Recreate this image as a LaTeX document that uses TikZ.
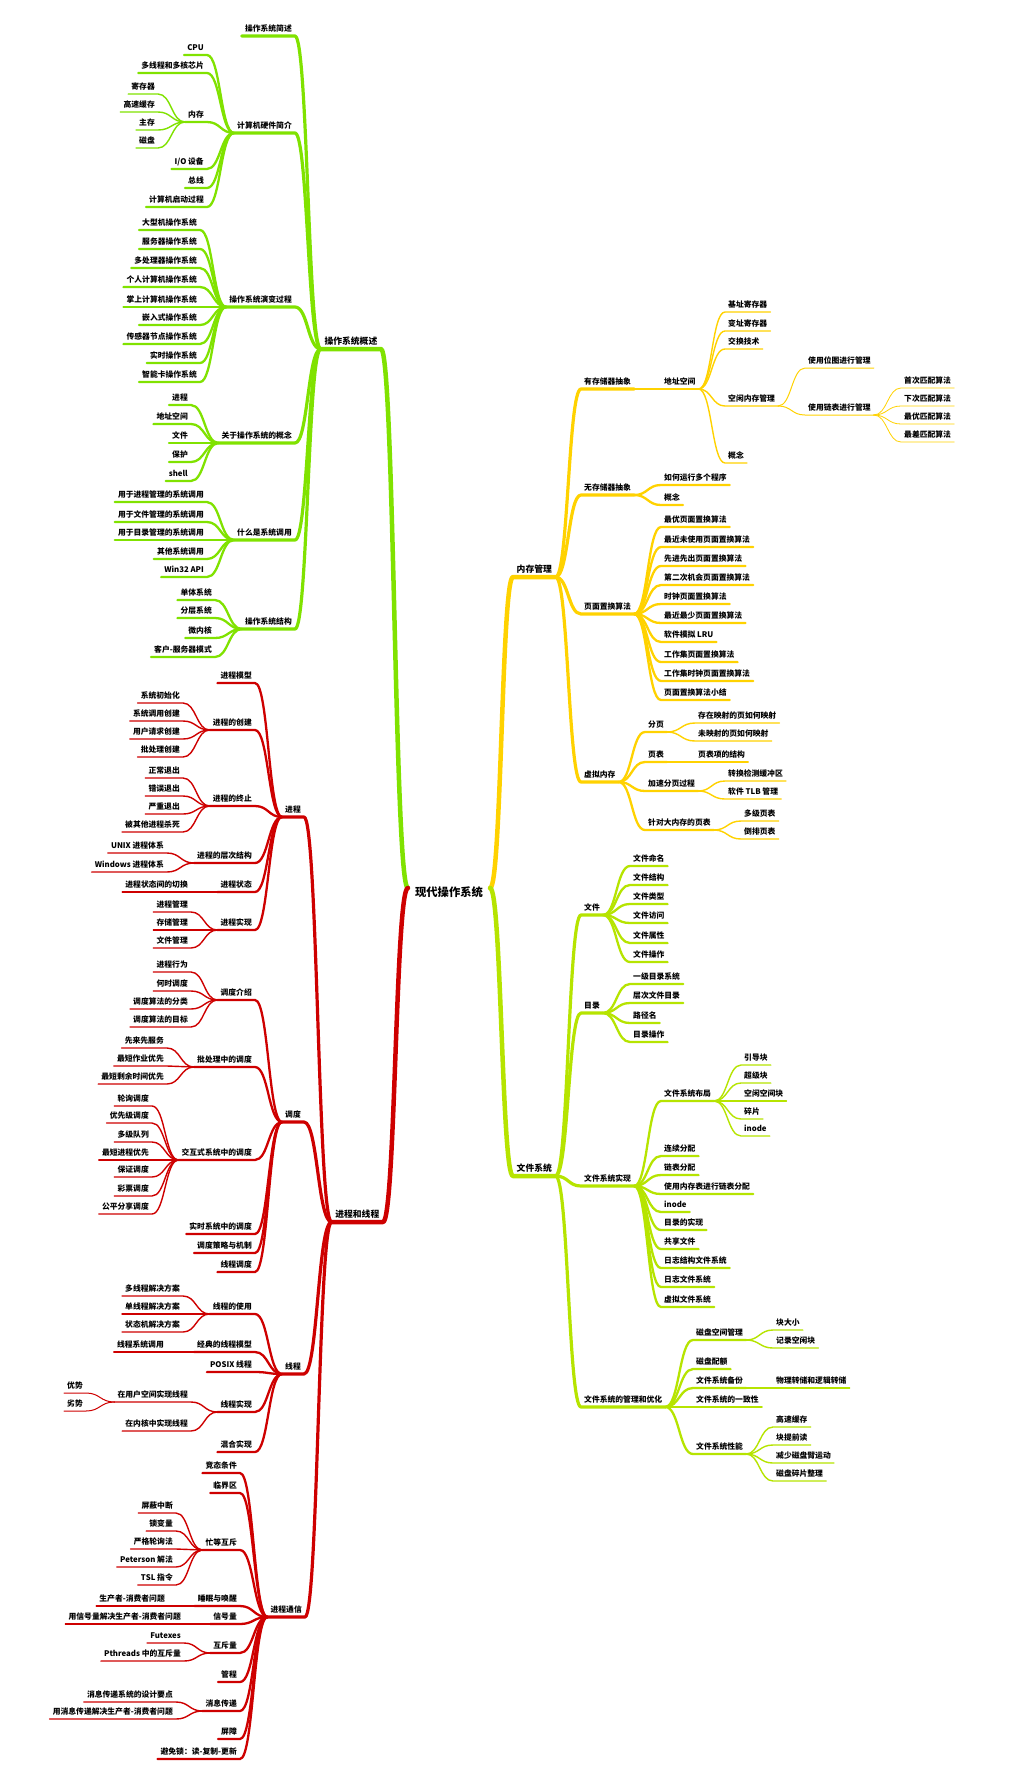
\documentclass[tikz,border=0pt]{standalone}
\usepackage{fontspec}
\setmainfont{Noto Sans CJK SC}
\usetikzlibrary{calc}

\definecolor{osgreen}{RGB}{128,226,0}
\definecolor{ptred}{RGB}{206,0,0}
\definecolor{memgold}{RGB}{255,210,0}
\definecolor{fslime}{RGB}{182,228,0}

\tikzset{
  curvy/.style={to path={let \p1=(\tikztostart), \p2=(\tikztotarget), \n1={(\x1+\x2)/2} in .. controls (\n1,\y1) and (\n1,\y2) .. (\tikztotarget)}},
  topic/.style={inner xsep=3pt, inner ysep=3pt, text height=7pt, text depth=1pt, font=\fontsize{7.8}{9}\selectfont\bfseries},
  maintopic/.style={inner xsep=3.5pt, inner ysep=3pt, text height=7.8pt, text depth=1pt, font=\fontsize{8.8}{10}\selectfont\bfseries},
  leftnode/.style={topic, anchor=south east},
  rightnode/.style={topic, anchor=south west},
  w1/.style={line width=4.5pt, line cap=round, line join=round},
  w2/.style={line width=3.2pt, line cap=round, line join=round},
  w3/.style={line width=2.3pt, line cap=round, line join=round},
  w4/.style={line width=1.4pt, line cap=round, line join=round},
  w5/.style={line width=1pt, line cap=round, line join=round},
  w6/.style={line width=0.8pt, line cap=round, line join=round}
}

\begin{document}
\begin{tikzpicture}[x=1pt, y=-1pt]
  \fill[white] (0,0) rectangle (1010,1778);
  \useasboundingbox (0,0) rectangle (1010,1778);

  \node[font=\fontsize{11.3}{13}\selectfont\bfseries, inner xsep=7pt] (root) at (449,892) {现代操作系统};

  % 操作系统概述
  \node[maintopic, anchor=south east] (overview) at (381,349) {操作系统概述};
  \draw[osgreen,w1] ([yshift=4pt]root.west) to[curvy] (overview.south east) -- (overview.south west);

  \node[leftnode] (brief) at (295,36) {操作系统简述};
  \draw[osgreen,w2] (overview.south west) to[curvy] (brief.south east) -- (brief.south west);
  \node[leftnode] (hardware) at (295,133) {计算机硬件简介};
  \draw[osgreen,w2] (overview.south west) to[curvy] (hardware.south east) -- (hardware.south west);
  \node[leftnode] (evolution) at (295,307) {操作系统演变过程};
  \draw[osgreen,w2] (overview.south west) to[curvy] (evolution.south east) -- (evolution.south west);
  \node[leftnode] (concepts) at (295,443) {关于操作系统的概念};
  \draw[osgreen,w2] (overview.south west) to[curvy] (concepts.south east) -- (concepts.south west);
  \node[leftnode] (syscall) at (295,540) {什么是系统调用};
  \draw[osgreen,w2] (overview.south west) to[curvy] (syscall.south east) -- (syscall.south west);
  \node[leftnode] (structure) at (295,629) {操作系统结构};
  \draw[osgreen,w2] (overview.south west) to[curvy] (structure.south east) -- (structure.south west);

  \node[leftnode] (cpu) at (207,55) {CPU};
  \draw[osgreen,w3] (hardware.south west) to[curvy] (cpu.south east) -- (cpu.south west);
  \node[leftnode] (multicore) at (207,73) {多线程和多核芯片};
  \draw[osgreen,w3] (hardware.south west) to[curvy] (multicore.south east) -- (multicore.south west);
  \node[leftnode] (memory) at (207,122) {内存};
  \draw[osgreen,w3] (hardware.south west) to[curvy] (memory.south east) -- (memory.south west);
  \node[leftnode] (iodevice) at (207,169) {I/O 设备};
  \draw[osgreen,w3] (hardware.south west) to[curvy] (iodevice.south east) -- (iodevice.south west);
  \node[leftnode] (bus) at (207,188) {总线};
  \draw[osgreen,w3] (hardware.south west) to[curvy] (bus.south east) -- (bus.south west);
  \node[leftnode] (booting) at (207,207) {计算机启动过程};
  \draw[osgreen,w3] (hardware.south west) to[curvy] (booting.south east) -- (booting.south west);

  \node[leftnode] (register) at (158,94) {寄存器};
  \draw[osgreen,w4] (memory.south west) to[curvy] (register.south east) -- (register.south west);
  \node[leftnode] (cache) at (158,112) {高速缓存};
  \draw[osgreen,w4] (memory.south west) to[curvy] (cache.south east) -- (cache.south west);
  \node[leftnode] (mainmem) at (158,130) {主存};
  \draw[osgreen,w4] (memory.south west) to[curvy] (mainmem.south east) -- (mainmem.south west);
  \node[leftnode] (disk) at (158,148) {磁盘};
  \draw[osgreen,w4] (memory.south west) to[curvy] (disk.south east) -- (disk.south west);

  \node[leftnode] (mainframe) at (200,230) {大型机操作系统};
  \draw[osgreen,w3] (evolution.south west) to[curvy] (mainframe.south east) -- (mainframe.south west);
  \node[leftnode] (serveros) at (200,249) {服务器操作系统};
  \draw[osgreen,w3] (evolution.south west) to[curvy] (serveros.south east) -- (serveros.south west);
  \node[leftnode] (multiproc) at (200,268) {多处理器操作系统};
  \draw[osgreen,w3] (evolution.south west) to[curvy] (multiproc.south east) -- (multiproc.south west);
  \node[leftnode] (pcos) at (200,287) {个人计算机操作系统};
  \draw[osgreen,w3] (evolution.south west) to[curvy] (pcos.south east) -- (pcos.south west);
  \node[leftnode] (handheld) at (200,307) {掌上计算机操作系统};
  \draw[osgreen,w3] (evolution.south west) to[curvy] (handheld.south east) -- (handheld.south west);
  \node[leftnode] (embedded) at (200,325) {嵌入式操作系统};
  \draw[osgreen,w3] (evolution.south west) to[curvy] (embedded.south east) -- (embedded.south west);
  \node[leftnode] (sensor) at (200,344) {传感器节点操作系统};
  \draw[osgreen,w3] (evolution.south west) to[curvy] (sensor.south east) -- (sensor.south west);
  \node[leftnode] (realtime) at (200,363) {实时操作系统};
  \draw[osgreen,w3] (evolution.south west) to[curvy] (realtime.south east) -- (realtime.south west);
  \node[leftnode] (smartcard) at (200,382) {智能卡操作系统};
  \draw[osgreen,w3] (evolution.south west) to[curvy] (smartcard.south east) -- (smartcard.south west);

  \node[leftnode] (cprocess) at (191,405) {进程};
  \draw[osgreen,w3] (concepts.south west) to[curvy] (cprocess.south east) -- (cprocess.south west);
  \node[leftnode] (caddress) at (191,424) {地址空间};
  \draw[osgreen,w3] (concepts.south west) to[curvy] (caddress.south east) -- (caddress.south west);
  \node[leftnode] (cfile) at (191,443) {文件};
  \draw[osgreen,w3] (concepts.south west) to[curvy] (cfile.south east) -- (cfile.south west);
  \node[leftnode] (cprotect) at (191,462) {保护};
  \draw[osgreen,w3] (concepts.south west) to[curvy] (cprotect.south east) -- (cprotect.south west);
  \node[leftnode] (cshell) at (191,481) {shell};
  \draw[osgreen,w3] (concepts.south west) to[curvy] (cshell.south east) -- (cshell.south west);

  \node[leftnode] (scprocess) at (207,502) {用于进程管理的系统调用};
  \draw[osgreen,w3] (syscall.south west) to[curvy] (scprocess.south east) -- (scprocess.south west);
  \node[leftnode] (scfile) at (207,522) {用于文件管理的系统调用};
  \draw[osgreen,w3] (syscall.south west) to[curvy] (scfile.south east) -- (scfile.south west);
  \node[leftnode] (scdir) at (207,540) {用于目录管理的系统调用};
  \draw[osgreen,w3] (syscall.south west) to[curvy] (scdir.south east) -- (scdir.south west);
  \node[leftnode] (scother) at (207,559) {其他系统调用};
  \draw[osgreen,w3] (syscall.south west) to[curvy] (scother.south east) -- (scother.south west);
  \node[leftnode] (win32) at (207,577) {Win32 API};
  \draw[osgreen,w3] (syscall.south west) to[curvy] (win32.south east) -- (win32.south west);

  \node[leftnode] (monolithic) at (215,600) {单体系统};
  \draw[osgreen,w3] (structure.south west) to[curvy] (monolithic.south east) -- (monolithic.south west);
  \node[leftnode] (layered) at (215,618) {分层系统};
  \draw[osgreen,w3] (structure.south west) to[curvy] (layered.south east) -- (layered.south west);
  \node[leftnode] (microkernel) at (215,638) {微内核};
  \draw[osgreen,w3] (structure.south west) to[curvy] (microkernel.south east) -- (microkernel.south west);
  \node[leftnode] (clientserver) at (215,657) {客户-服务器模式};
  \draw[osgreen,w3] (structure.south west) to[curvy] (clientserver.south east) -- (clientserver.south west);

  % 进程和线程
  \node[maintopic, anchor=south east] (procthread) at (383,1222) {进程和线程};
  \draw[ptred,w1] ([yshift=4pt]root.west) to[curvy] (procthread.south east) -- (procthread.south west);

  \node[leftnode] (process) at (304,817) {进程};
  \draw[ptred,w2] (procthread.south west) to[curvy] (process.south east) -- (process.south west);
  \node[leftnode] (sched) at (304,1122) {调度};
  \draw[ptred,w2] (procthread.south west) to[curvy] (sched.south east) -- (sched.south west);
  \node[leftnode] (thread) at (304,1374) {线程};
  \draw[ptred,w2] (procthread.south west) to[curvy] (thread.south east) -- (thread.south west);
  \node[leftnode] (ipc) at (305,1617) {进程通信};
  \draw[ptred,w2] (procthread.south west) to[curvy] (ipc.south east) -- (ipc.south west);

  \node[leftnode] (pmodel) at (255,683) {进程模型};
  \draw[ptred,w3] (process.south west) to[curvy] (pmodel.south east) -- (pmodel.south west);
  \node[leftnode] (pcreate) at (255,730) {进程的创建};
  \draw[ptred,w3] (process.south west) to[curvy] (pcreate.south east) -- (pcreate.south west);
  \node[leftnode] (pexit) at (255,806) {进程的终止};
  \draw[ptred,w3] (process.south west) to[curvy] (pexit.south east) -- (pexit.south west);
  \node[leftnode] (phier) at (255,863) {进程的层次结构};
  \draw[ptred,w3] (process.south west) to[curvy] (phier.south east) -- (phier.south west);
  \node[leftnode] (pstate) at (255,892) {进程状态};
  \draw[ptred,w3] (process.south west) to[curvy] (pstate.south east) -- (pstate.south west);
  \node[leftnode] (pimpl) at (255,930) {进程实现};
  \draw[ptred,w3] (process.south west) to[curvy] (pimpl.south east) -- (pimpl.south west);

  \node[leftnode] (sysinit) at (183,703) {系统初始化};
  \draw[ptred,w4] (pcreate.south west) to[curvy] (sysinit.south east) -- (sysinit.south west);
  \node[leftnode] (syscreate) at (183,721) {系统调用创建};
  \draw[ptred,w4] (pcreate.south west) to[curvy] (syscreate.south east) -- (syscreate.south west);
  \node[leftnode] (usercreate) at (183,739) {用户请求创建};
  \draw[ptred,w4] (pcreate.south west) to[curvy] (usercreate.south east) -- (usercreate.south west);
  \node[leftnode] (batchcreate) at (183,757) {批处理创建};
  \draw[ptred,w4] (pcreate.south west) to[curvy] (batchcreate.south east) -- (batchcreate.south west);

  \node[leftnode] (normalexit) at (183,778) {正常退出};
  \draw[ptred,w4] (pexit.south west) to[curvy] (normalexit.south east) -- (normalexit.south west);
  \node[leftnode] (errorexit) at (183,796) {错误退出};
  \draw[ptred,w4] (pexit.south west) to[curvy] (errorexit.south east) -- (errorexit.south west);
  \node[leftnode] (fatalexit) at (183,814) {严重退出};
  \draw[ptred,w4] (pexit.south west) to[curvy] (fatalexit.south east) -- (fatalexit.south west);
  \node[leftnode] (killed) at (183,832) {被其他进程杀死};
  \draw[ptred,w4] (pexit.south west) to[curvy] (killed.south east) -- (killed.south west);

  \node[leftnode] (unixhier) at (167,853) {UNIX 进程体系};
  \draw[ptred,w4] (phier.south west) to[curvy] (unixhier.south east) -- (unixhier.south west);
  \node[leftnode] (winhier) at (167,872) {Windows 进程体系};
  \draw[ptred,w4] (phier.south west) to[curvy] (winhier.south east) -- (winhier.south west);

  \node[leftnode] (switching) at (191,892) {进程状态间的切换};
  \draw[ptred,w4] (pstate.south west) to[curvy] (switching.south east) -- (switching.south west);

  \node[leftnode] (procmgmt) at (191,912) {进程管理};
  \draw[ptred,w4] (pimpl.south west) to[curvy] (procmgmt.south east) -- (procmgmt.south west);
  \node[leftnode] (storemgmt) at (191,930) {存储管理};
  \draw[ptred,w4] (pimpl.south west) to[curvy] (storemgmt.south east) -- (storemgmt.south west);
  \node[leftnode] (filemgmt) at (191,948) {文件管理};
  \draw[ptred,w4] (pimpl.south west) to[curvy] (filemgmt.south east) -- (filemgmt.south west);

  \node[leftnode] (sintro) at (255,1000) {调度介绍};
  \draw[ptred,w3] (sched.south west) to[curvy] (sintro.south east) -- (sintro.south west);
  \node[leftnode] (sbatch) at (255,1067) {批处理中的调度};
  \draw[ptred,w3] (sched.south west) to[curvy] (sbatch.south east) -- (sbatch.south west);
  \node[leftnode] (sinter) at (255,1160) {交互式系统中的调度};
  \draw[ptred,w3] (sched.south west) to[curvy] (sinter.south east) -- (sinter.south west);
  \node[leftnode] (srealtime) at (255,1234) {实时系统中的调度};
  \draw[ptred,w3] (sched.south west) to[curvy] (srealtime.south east) -- (srealtime.south west);
  \node[leftnode] (spolicy) at (255,1253) {调度策略与机制};
  \draw[ptred,w3] (sched.south west) to[curvy] (spolicy.south east) -- (spolicy.south west);
  \node[leftnode] (sthread) at (255,1272) {线程调度};
  \draw[ptred,w3] (sched.south west) to[curvy] (sthread.south east) -- (sthread.south west);

  \node[leftnode] (behavior) at (191,972) {进程行为};
  \draw[ptred,w4] (sintro.south west) to[curvy] (behavior.south east) -- (behavior.south west);
  \node[leftnode] (whensched) at (191,991) {何时调度};
  \draw[ptred,w4] (sintro.south west) to[curvy] (whensched.south east) -- (whensched.south west);
  \node[leftnode] (algclass) at (191,1009) {调度算法的分类};
  \draw[ptred,w4] (sintro.south west) to[curvy] (algclass.south east) -- (algclass.south west);
  \node[leftnode] (alggoal) at (191,1027) {调度算法的目标};
  \draw[ptred,w4] (sintro.south west) to[curvy] (alggoal.south east) -- (alggoal.south west);

  \node[leftnode] (fcfs) at (167,1048) {先来先服务};
  \draw[ptred,w4] (sbatch.south west) to[curvy] (fcfs.south east) -- (fcfs.south west);
  \node[leftnode] (sjf) at (167,1066) {最短作业优先};
  \draw[ptred,w4] (sbatch.south west) to[curvy] (sjf.south east) -- (sjf.south west);
  \node[leftnode] (srtn) at (167,1084) {最短剩余时间优先};
  \draw[ptred,w4] (sbatch.south west) to[curvy] (srtn.south east) -- (srtn.south west);

  \node[leftnode] (roundrobin) at (152,1106) {轮询调度};
  \draw[ptred,w4] (sinter.south west) to[curvy] (roundrobin.south east) -- (roundrobin.south west);
  \node[leftnode] (priority) at (152,1123) {优先级调度};
  \draw[ptred,w4] (sinter.south west) to[curvy] (priority.south east) -- (priority.south west);
  \node[leftnode] (multiqueue) at (152,1142) {多级队列};
  \draw[ptred,w4] (sinter.south west) to[curvy] (multiqueue.south east) -- (multiqueue.south west);
  \node[leftnode] (spn) at (152,1160) {最短进程优先};
  \draw[ptred,w4] (sinter.south west) to[curvy] (spn.south east) -- (spn.south west);
  \node[leftnode] (guaranteed) at (152,1177) {保证调度};
  \draw[ptred,w4] (sinter.south west) to[curvy] (guaranteed.south east) -- (guaranteed.south west);
  \node[leftnode] (lottery) at (152,1196) {彩票调度};
  \draw[ptred,w4] (sinter.south west) to[curvy] (lottery.south east) -- (lottery.south west);
  \node[leftnode] (fairshare) at (152,1214) {公平分享调度};
  \draw[ptred,w4] (sinter.south west) to[curvy] (fairshare.south east) -- (fairshare.south west);

  \node[leftnode] (tusage) at (255,1314) {线程的使用};
  \draw[ptred,w3] (thread.south west) to[curvy] (tusage.south east) -- (tusage.south west);
  \node[leftnode] (tclassic) at (255,1352) {经典的线程模型};
  \draw[ptred,w3] (thread.south west) to[curvy] (tclassic.south east) -- (tclassic.south west);
  \node[leftnode] (tposix) at (255,1372) {POSIX 线程};
  \draw[ptred,w3] (thread.south west) to[curvy] (tposix.south east) -- (tposix.south west);
  \node[leftnode] (timpl) at (255,1412) {线程实现};
  \draw[ptred,w3] (thread.south west) to[curvy] (timpl.south east) -- (timpl.south west);
  \node[leftnode] (thybrid) at (255,1452) {混合实现};
  \draw[ptred,w3] (thread.south west) to[curvy] (thybrid.south east) -- (thybrid.south west);

  \node[leftnode] (multisol) at (183,1296) {多线程解决方案};
  \draw[ptred,w4] (tusage.south west) to[curvy] (multisol.south east) -- (multisol.south west);
  \node[leftnode] (singlesol) at (183,1314) {单线程解决方案};
  \draw[ptred,w4] (tusage.south west) to[curvy] (singlesol.south east) -- (singlesol.south west);
  \node[leftnode] (fsmsol) at (183,1332) {状态机解决方案};
  \draw[ptred,w4] (tusage.south west) to[curvy] (fsmsol.south east) -- (fsmsol.south west);

  \node[leftnode] (tsyscall) at (167,1352) {线程系统调用};
  \draw[ptred,w4] (tclassic.south west) to[curvy] (tsyscall.south east) -- (tsyscall.south west);

  \node[leftnode] (userspace) at (191,1402) {在用户空间实现线程};
  \draw[ptred,w4] (timpl.south west) to[curvy] (userspace.south east) -- (userspace.south west);
  \node[leftnode] (kernelspace) at (191,1431) {在内核中实现线程};
  \draw[ptred,w4] (timpl.south west) to[curvy] (kernelspace.south east) -- (kernelspace.south west);

  \node[leftnode] (pros) at (86,1393) {优势};
  \draw[ptred,w5] (userspace.south west) to[curvy] (pros.south east) -- (pros.south west);
  \node[leftnode] (cons) at (86,1411) {劣势};
  \draw[ptred,w5] (userspace.south west) to[curvy] (cons.south east) -- (cons.south west);

  \node[leftnode] (race) at (240,1473) {竞态条件};
  \draw[ptred,w3] (ipc.south west) to[curvy] (race.south east) -- (race.south west);
  \node[leftnode] (critical) at (240,1493) {临界区};
  \draw[ptred,w3] (ipc.south west) to[curvy] (critical.south east) -- (critical.south west);
  \node[leftnode] (busywait) at (240,1550) {忙等互斥};
  \draw[ptred,w3] (ipc.south west) to[curvy] (busywait.south east) -- (busywait.south west);
  \node[leftnode] (sleepwake) at (240,1606) {睡眠与唤醒};
  \draw[ptred,w3] (ipc.south west) to[curvy] (sleepwake.south east) -- (sleepwake.south west);
  \node[leftnode] (semaphore) at (240,1624) {信号量};
  \draw[ptred,w3] (ipc.south west) to[curvy] (semaphore.south east) -- (semaphore.south west);
  \node[leftnode] (mutex) at (240,1653) {互斥量};
  \draw[ptred,w3] (ipc.south west) to[curvy] (mutex.south east) -- (mutex.south west);
  \node[leftnode] (monitor) at (240,1682) {管程};
  \draw[ptred,w3] (ipc.south west) to[curvy] (monitor.south east) -- (monitor.south west);
  \node[leftnode] (msgpass) at (240,1711) {消息传递};
  \draw[ptred,w3] (ipc.south west) to[curvy] (msgpass.south east) -- (msgpass.south west);
  \node[leftnode] (barrier) at (240,1739) {屏障};
  \draw[ptred,w3] (ipc.south west) to[curvy] (barrier.south east) -- (barrier.south west);
  \node[leftnode] (rcu) at (240,1759) {避免锁：读-复制-更新};
  \draw[ptred,w3] (ipc.south west) to[curvy] (rcu.south east) -- (rcu.south west);

  \node[leftnode] (disableint) at (176,1513) {屏蔽中断};
  \draw[ptred,w4] (busywait.south west) to[curvy] (disableint.south east) -- (disableint.south west);
  \node[leftnode] (lockvar) at (176,1531) {锁变量};
  \draw[ptred,w4] (busywait.south west) to[curvy] (lockvar.south east) -- (lockvar.south west);
  \node[leftnode] (strictalt) at (176,1549) {严格轮询法};
  \draw[ptred,w4] (busywait.south west) to[curvy] (strictalt.south east) -- (strictalt.south west);
  \node[leftnode] (peterson) at (176,1567) {Peterson 解法};
  \draw[ptred,w4] (busywait.south west) to[curvy] (peterson.south east) -- (peterson.south west);
  \node[leftnode] (tsl) at (176,1585) {TSL 指令};
  \draw[ptred,w4] (busywait.south west) to[curvy] (tsl.south east) -- (tsl.south west);

  \node[leftnode] (prodcons) at (168,1606) {生产者-消费者问题};
  \draw[ptred,w4] (sleepwake.south west) to[curvy] (prodcons.south east) -- (prodcons.south west);
  \node[leftnode] (semprodcons) at (184,1624) {用信号量解决生产者-消费者问题};
  \draw[ptred,w4] (semaphore.south west) to[curvy] (semprodcons.south east) -- (semprodcons.south west);

  \node[leftnode] (futex) at (184,1643) {Futexes};
  \draw[ptred,w4] (mutex.south west) to[curvy] (futex.south east) -- (futex.south west);
  \node[leftnode] (pthreadmutex) at (184,1661) {Pthreads 中的互斥量};
  \draw[ptred,w4] (mutex.south west) to[curvy] (pthreadmutex.south east) -- (pthreadmutex.south west);

  \node[leftnode] (msgdesign) at (176,1702) {消息传递系统的设计要点};
  \draw[ptred,w4] (msgpass.south west) to[curvy] (msgdesign.south east) -- (msgdesign.south west);
  \node[leftnode] (msgprodcons) at (176,1719) {用消息传递解决生产者-消费者问题};
  \draw[ptred,w4] (msgpass.south west) to[curvy] (msgprodcons.south east) -- (msgprodcons.south west);

  % 内存管理
  \node[maintopic, anchor=south west] (memmgmt) at (513,577) {内存管理};
  \draw[memgold,w1] ([yshift=4pt]root.east) to[curvy] (memmgmt.south west) -- (memmgmt.south east);

  \node[rightnode] (withabs) at (581,389) {有存储器抽象};
  \draw[memgold,w2] (memmgmt.south east) to[curvy] (withabs.south west) -- (withabs.south east);
  \node[rightnode] (noabs) at (581,495) {无存储器抽象};
  \draw[memgold,w2] (memmgmt.south east) to[curvy] (noabs.south west) -- (noabs.south east);
  \node[rightnode] (replace) at (581,614) {页面置换算法};
  \draw[memgold,w2] (memmgmt.south east) to[curvy] (replace.south west) -- (replace.south east);
  \node[rightnode] (virtmem) at (581,782) {虚拟内存};
  \draw[memgold,w2] (memmgmt.south east) to[curvy] (virtmem.south west) -- (virtmem.south east);

  \node[rightnode] (addrspace) at (661,389) {地址空间};
  \draw[memgold,w3] (withabs.south east) to[curvy] (addrspace.south west) -- (addrspace.south east);

  \node[rightnode] (baseregister) at (725,312) {基址寄存器};
  \draw[memgold,w4] (addrspace.south east) to[curvy] (baseregister.south west) -- (baseregister.south east);
  \node[rightnode] (limitregister) at (725,331) {变址寄存器};
  \draw[memgold,w4] (addrspace.south east) to[curvy] (limitregister.south west) -- (limitregister.south east);
  \node[rightnode] (swapping) at (725,349) {交换技术};
  \draw[memgold,w4] (addrspace.south east) to[curvy] (swapping.south west) -- (swapping.south east);
  \node[rightnode] (freemem) at (725,406) {空闲内存管理};
  \draw[memgold,w4] (addrspace.south east) to[curvy] (freemem.south west) -- (freemem.south east);
  \node[rightnode] (addrconcept) at (725,463) {概念};
  \draw[memgold,w4] (addrspace.south east) to[curvy] (addrconcept.south west) -- (addrconcept.south east);

  \node[rightnode] (bitmap) at (805,368) {使用位图进行管理};
  \draw[memgold,w5] (freemem.south east) to[curvy] (bitmap.south west) -- (bitmap.south east);
  \node[rightnode] (linkedlist) at (805,415) {使用链表进行管理};
  \draw[memgold,w5] (freemem.south east) to[curvy] (linkedlist.south west) -- (linkedlist.south east);

  \node[rightnode] (firstfit) at (901,388) {首次匹配算法};
  \draw[memgold,w6] (linkedlist.south east) to[curvy] (firstfit.south west) -- (firstfit.south east);
  \node[rightnode] (nextfit) at (901,406) {下次匹配算法};
  \draw[memgold,w6] (linkedlist.south east) to[curvy] (nextfit.south west) -- (nextfit.south east);
  \node[rightnode] (bestfit) at (901,424) {最优匹配算法};
  \draw[memgold,w6] (linkedlist.south east) to[curvy] (bestfit.south west) -- (bestfit.south east);
  \node[rightnode] (worstfit) at (901,442) {最差匹配算法};
  \draw[memgold,w6] (linkedlist.south east) to[curvy] (worstfit.south west) -- (worstfit.south east);

  \node[rightnode] (multiprog) at (661,485) {如何运行多个程序};
  \draw[memgold,w3] (noabs.south east) to[curvy] (multiprog.south west) -- (multiprog.south east);
  \node[rightnode] (noabsconcept) at (661,505) {概念};
  \draw[memgold,w3] (noabs.south east) to[curvy] (noabsconcept.south west) -- (noabsconcept.south east);

  \node[rightnode] (optimal) at (661,527) {最优页面置换算法};
  \draw[memgold,w3] (replace.south east) to[curvy] (optimal.south west) -- (optimal.south east);
  \node[rightnode] (nru) at (661,547) {最近未使用页面置换算法};
  \draw[memgold,w3] (replace.south east) to[curvy] (nru.south west) -- (nru.south east);
  \node[rightnode] (fifo) at (661,566) {先进先出页面置换算法};
  \draw[memgold,w3] (replace.south east) to[curvy] (fifo.south west) -- (fifo.south east);
  \node[rightnode] (secondchance) at (661,585) {第二次机会页面置换算法};
  \draw[memgold,w3] (replace.south east) to[curvy] (secondchance.south west) -- (secondchance.south east);
  \node[rightnode] (clock) at (661,604) {时钟页面置换算法};
  \draw[memgold,w3] (replace.south east) to[curvy] (clock.south west) -- (clock.south east);
  \node[rightnode] (lru) at (661,623) {最近最少页面置换算法};
  \draw[memgold,w3] (replace.south east) to[curvy] (lru.south west) -- (lru.south east);
  \node[rightnode] (softlru) at (661,642) {软件模拟 LRU};
  \draw[memgold,w3] (replace.south east) to[curvy] (softlru.south west) -- (softlru.south east);
  \node[rightnode] (workingset) at (661,662) {工作集页面置换算法};
  \draw[memgold,w3] (replace.south east) to[curvy] (workingset.south west) -- (workingset.south east);
  \node[rightnode] (wsclock) at (661,681) {工作集时钟页面置换算法};
  \draw[memgold,w3] (replace.south east) to[curvy] (wsclock.south west) -- (wsclock.south east);
  \node[rightnode] (replsummary) at (661,700) {页面置换算法小结};
  \draw[memgold,w3] (replace.south east) to[curvy] (replsummary.south west) -- (replsummary.south east);

  \node[rightnode] (paging) at (645,732) {分页};
  \draw[memgold,w3] (virtmem.south east) to[curvy] (paging.south west) -- (paging.south east);
  \node[rightnode] (pagetable) at (645,762) {页表};
  \draw[memgold,w3] (virtmem.south east) to[curvy] (pagetable.south west) -- (pagetable.south east);
  \node[rightnode] (speedup) at (645,791) {加速分页过程};
  \draw[memgold,w3] (virtmem.south east) to[curvy] (speedup.south west) -- (speedup.south east);
  \node[rightnode] (largemem) at (645,830) {针对大内存的页表};
  \draw[memgold,w3] (virtmem.south east) to[curvy] (largemem.south west) -- (largemem.south east);

  \node[rightnode] (mapped) at (695,723) {存在映射的页如何映射};
  \draw[memgold,w4] (paging.south east) to[curvy] (mapped.south west) -- (mapped.south east);
  \node[rightnode] (unmapped) at (695,741) {未映射的页如何映射};
  \draw[memgold,w4] (paging.south east) to[curvy] (unmapped.south west) -- (unmapped.south east);
  \node[rightnode] (pte) at (695,762) {页表项的结构};
  \draw[memgold,w4] (pagetable.south east) to[curvy] (pte.south west) -- (pte.south east);
  \node[rightnode] (tlb) at (725,781) {转换检测缓冲区};
  \draw[memgold,w4] (speedup.south east) to[curvy] (tlb.south west) -- (tlb.south east);
  \node[rightnode] (softtlb) at (725,799) {软件 TLB 管理};
  \draw[memgold,w4] (speedup.south east) to[curvy] (softtlb.south west) -- (softtlb.south east);
  \node[rightnode] (multilevel) at (741,821) {多级页表};
  \draw[memgold,w4] (largemem.south east) to[curvy] (multilevel.south west) -- (multilevel.south east);
  \node[rightnode] (inverted) at (741,839) {倒排页表};
  \draw[memgold,w4] (largemem.south east) to[curvy] (inverted.south west) -- (inverted.south east);

  % 文件系统
  \node[maintopic, anchor=south west] (filesys) at (513,1176) {文件系统};
  \draw[fslime,w1] ([yshift=4pt]root.east) to[curvy] (filesys.south west) -- (filesys.south east);

  \node[rightnode] (files) at (581,915) {文件};
  \draw[fslime,w2] (filesys.south east) to[curvy] (files.south west) -- (files.south east);
  \node[rightnode] (dirs) at (581,1013) {目录};
  \draw[fslime,w2] (filesys.south east) to[curvy] (dirs.south west) -- (dirs.south east);
  \node[rightnode] (fsimpl) at (581,1186) {文件系统实现};
  \draw[fslime,w2] (filesys.south east) to[curvy] (fsimpl.south west) -- (fsimpl.south east);
  \node[rightnode] (fsmanage) at (581,1407) {文件系统的管理和优化};
  \draw[fslime,w2] (filesys.south east) to[curvy] (fsmanage.south west) -- (fsmanage.south east);

  \node[rightnode] (fnaming) at (630,866) {文件命名};
  \draw[fslime,w3] (files.south east) to[curvy] (fnaming.south west) -- (fnaming.south east);
  \node[rightnode] (fstruct) at (630,885) {文件结构};
  \draw[fslime,w3] (files.south east) to[curvy] (fstruct.south west) -- (fstruct.south east);
  \node[rightnode] (ftype) at (630,904) {文件类型};
  \draw[fslime,w3] (files.south east) to[curvy] (ftype.south west) -- (ftype.south east);
  \node[rightnode] (faccess) at (630,923) {文件访问};
  \draw[fslime,w3] (files.south east) to[curvy] (faccess.south west) -- (faccess.south east);
  \node[rightnode] (fattr) at (630,943) {文件属性};
  \draw[fslime,w3] (files.south east) to[curvy] (fattr.south west) -- (fattr.south east);
  \node[rightnode] (fops) at (630,962) {文件操作};
  \draw[fslime,w3] (files.south east) to[curvy] (fops.south west) -- (fops.south east);

  \node[rightnode] (singledir) at (630,984) {一级目录系统};
  \draw[fslime,w3] (dirs.south east) to[curvy] (singledir.south west) -- (singledir.south east);
  \node[rightnode] (hierdir) at (630,1003) {层次文件目录};
  \draw[fslime,w3] (dirs.south east) to[curvy] (hierdir.south west) -- (hierdir.south east);
  \node[rightnode] (pathname) at (630,1023) {路径名};
  \draw[fslime,w3] (dirs.south east) to[curvy] (pathname.south west) -- (pathname.south east);
  \node[rightnode] (dirops) at (630,1042) {目录操作};
  \draw[fslime,w3] (dirs.south east) to[curvy] (dirops.south west) -- (dirops.south east);

  \node[rightnode] (layout) at (661,1101) {文件系统布局};
  \draw[fslime,w3] (fsimpl.south east) to[curvy] (layout.south west) -- (layout.south east);
  \node[rightnode] (contiguous) at (661,1156) {连续分配};
  \draw[fslime,w3] (fsimpl.south east) to[curvy] (contiguous.south west) -- (contiguous.south east);
  \node[rightnode] (linkedalloc) at (661,1175) {链表分配};
  \draw[fslime,w3] (fsimpl.south east) to[curvy] (linkedalloc.south west) -- (linkedalloc.south east);
  \node[rightnode] (fat) at (661,1194) {使用内存表进行链表分配};
  \draw[fslime,w3] (fsimpl.south east) to[curvy] (fat.south west) -- (fat.south east);
  \node[rightnode] (inode) at (661,1212) {inode};
  \draw[fslime,w3] (fsimpl.south east) to[curvy] (inode.south west) -- (inode.south east);
  \node[rightnode] (dirimpl) at (661,1230) {目录的实现};
  \draw[fslime,w3] (fsimpl.south east) to[curvy] (dirimpl.south west) -- (dirimpl.south east);
  \node[rightnode] (shared) at (661,1249) {共享文件};
  \draw[fslime,w3] (fsimpl.south east) to[curvy] (shared.south west) -- (shared.south east);
  \node[rightnode] (logstruct) at (661,1268) {日志结构文件系统};
  \draw[fslime,w3] (fsimpl.south east) to[curvy] (logstruct.south west) -- (logstruct.south east);
  \node[rightnode] (journal) at (661,1287) {日志文件系统};
  \draw[fslime,w3] (fsimpl.south east) to[curvy] (journal.south west) -- (journal.south east);
  \node[rightnode] (vfs) at (661,1307) {虚拟文件系统};
  \draw[fslime,w3] (fsimpl.south east) to[curvy] (vfs.south west) -- (vfs.south east);

  \node[rightnode] (bootblock) at (741,1065) {引导块};
  \draw[fslime,w4] (layout.south east) to[curvy] (bootblock.south west) -- (bootblock.south east);
  \node[rightnode] (superblock) at (741,1083) {超级块};
  \draw[fslime,w4] (layout.south east) to[curvy] (superblock.south west) -- (superblock.south east);
  \node[rightnode] (freeblock) at (741,1101) {空闲空间块};
  \draw[fslime,w4] (layout.south east) to[curvy] (freeblock.south west) -- (freeblock.south east);
  \node[rightnode] (fragment) at (741,1119) {碎片};
  \draw[fslime,w4] (layout.south east) to[curvy] (fragment.south west) -- (fragment.south east);
  \node[rightnode] (layoutinode) at (741,1136) {inode};
  \draw[fslime,w4] (layout.south east) to[curvy] (layoutinode.south west) -- (layoutinode.south east);

  \node[rightnode] (diskspace) at (693,1340) {磁盘空间管理};
  \draw[fslime,w3] (fsmanage.south east) to[curvy] (diskspace.south west) -- (diskspace.south east);
  \node[rightnode] (quota) at (693,1369) {磁盘配额};
  \draw[fslime,w3] (fsmanage.south east) to[curvy] (quota.south west) -- (quota.south east);
  \node[rightnode] (backup) at (693,1388) {文件系统备份};
  \draw[fslime,w3] (fsmanage.south east) to[curvy] (backup.south west) -- (backup.south east);
  \node[rightnode] (consistency) at (693,1407) {文件系统的一致性};
  \draw[fslime,w3] (fsmanage.south east) to[curvy] (consistency.south west) -- (consistency.south east);
  \node[rightnode] (performance) at (693,1454) {文件系统性能};
  \draw[fslime,w3] (fsmanage.south east) to[curvy] (performance.south west) -- (performance.south east);

  \node[rightnode] (blocksize) at (773,1330) {块大小};
  \draw[fslime,w4] (diskspace.south east) to[curvy] (blocksize.south west) -- (blocksize.south east);
  \node[rightnode] (freetrack) at (773,1348) {记录空闲块};
  \draw[fslime,w4] (diskspace.south east) to[curvy] (freetrack.south west) -- (freetrack.south east);
  \node[rightnode] (dump) at (773,1388) {物理转储和逻辑转储};
  \draw[fslime,w4] (backup.south east) to[curvy] (dump.south west) -- (dump.south east);
  \node[rightnode] (fscache) at (773,1427) {高速缓存};
  \draw[fslime,w4] (performance.south east) to[curvy] (fscache.south west) -- (fscache.south east);
  \node[rightnode] (readahead) at (773,1445) {块提前读};
  \draw[fslime,w4] (performance.south east) to[curvy] (readahead.south west) -- (readahead.south east);
  \node[rightnode] (armmotion) at (773,1463) {减少磁盘臂运动};
  \draw[fslime,w4] (performance.south east) to[curvy] (armmotion.south west) -- (armmotion.south east);
  \node[rightnode] (defrag) at (773,1481) {磁盘碎片整理};
  \draw[fslime,w4] (performance.south east) to[curvy] (defrag.south west) -- (defrag.south east);
\end{tikzpicture}
\end{document}
